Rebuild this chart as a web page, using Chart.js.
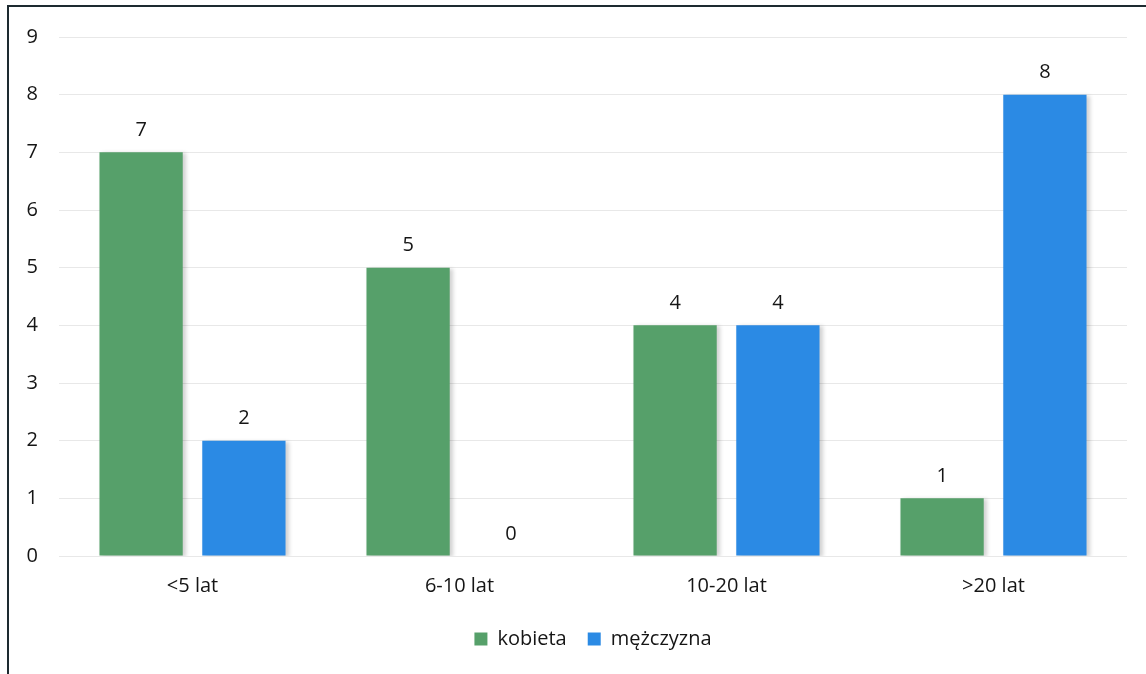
<!DOCTYPE html>
<html lang="pl">
<head>
<meta charset="utf-8">
<title>Staż pracy</title>
<script src="https://cdn.jsdelivr.net/npm/chart.js@4/dist/chart.umd.min.js"></script>
<style>
  html, body { margin: 0; padding: 0; background: #fff; }
  .frame { position: relative; width: 1146px; height: 674px; }
  .frame::before {
    content: ''; position: absolute; left: 7px; top: 5px; right: 0; bottom: 0;
    border-left: 2px solid #1d2a30; border-top: 2px solid #1d2a30;
    pointer-events: none;
  }
  canvas { display: block; }
</style>
</head>
<body>
<div class="frame">
  <canvas id="wykres" width="1146" height="674"></canvas>
</div>
<script>
const kategorie = ['<5 lat', '6-10 lat', '10-20 lat', '>20 lat'];
const kobieta = [7, 5, 4, 1];
const mezczyzna = [2, 0, 4, 8];
const osY = [0, 1, 2, 3, 4, 5, 6, 7, 8, 9];

const FONT = '"Open Sans", "DejaVu Sans", sans-serif';
const ROZMIAR = 20;

// wartości nad słupkami
const etykiety = {
  id: 'etykiety',
  afterDatasetsDraw(chart) {
    const ctx = chart.ctx;
    ctx.save();
    ctx.font = ROZMIAR + 'px ' + FONT;
    ctx.fillStyle = '#151515';
    ctx.textAlign = 'center';
    ctx.textBaseline = 'bottom';
    chart.data.datasets.forEach((ds, i) => {
      chart.getDatasetMeta(i).data.forEach((bar, j) => {
        ctx.fillText(ds.data[j], bar.x, bar.y - 12);
      });
    });
    ctx.restore();
  }
};

// lekki cień po prawej stronie słupków
const cien = {
  id: 'cien',
  beforeDatasetsDraw(chart) {
    chart.ctx.save();
    chart.ctx.shadowColor = 'rgba(0,0,0,0.18)';
    chart.ctx.shadowOffsetX = 3;
    chart.ctx.shadowOffsetY = 1;
    chart.ctx.shadowBlur = 4;
  },
  afterDatasetsDraw(chart) {
    chart.ctx.restore();
  }
};

// legenda wyśrodkowana pod obszarem wykresu, nie pod całym płótnem
const legendaPodWykresem = {
  id: 'legendaPodWykresem',
  afterLayout(chart) {
    const lg = chart.legend;
    const dx = (chart.chartArea.left + chart.chartArea.right) / 2 - (lg.left + lg.right) / 2;
    lg.left += dx;
    lg.right += dx;
  }
};

const dane = {
  labels: kategorie,
  datasets: [
    {
      label: 'kobieta',
      data: kobieta,
      backgroundColor: '#56a06a',
      categoryPercentage: 0.77,
      barPercentage: 0.81,
    },
    {
      label: 'mężczyzna',
      data: mezczyzna,
      backgroundColor: '#2b8ae4',
      categoryPercentage: 0.77,
      barPercentage: 0.81,
    },
  ]
};

const config = {
  type: 'bar',
  data: dane,
  plugins: [cien, etykiety, legendaPodWykresem],
  options: {
    responsive: false,
    animation: false,
    layout: { padding: { left: 9, right: 19, top: 37, bottom: 15 } },
    plugins: {
      tooltip: { enabled: false },
      legend: {
        position: 'bottom',
        labels: {
          boxWidth: 13,
          boxHeight: 13,
          padding: 21,
          color: '#151515',
          font: { family: FONT, size: ROZMIAR }
        }
      }
    },
    scales: {
      x: {
        grid: { display: false },
        border: { display: false },
        ticks: { color: '#151515', padding: 10, font: { family: FONT, size: ROZMIAR } }
      },
      y: {
        min: 0,
        max: 9,
        afterFit: s => { s.width = 50; },
        afterBuildTicks: s => { s.ticks = osY.map(v => ({ value: v })); },
        grid: { color: '#e8e8e8', drawTicks: false },
        border: { display: false },
        ticks: { color: '#151515', padding: 21, font: { family: FONT, size: ROZMIAR } }
      }
    }
  }
};

const wykres = new Chart(document.getElementById('wykres'), config);
</script>
</body>
</html>
